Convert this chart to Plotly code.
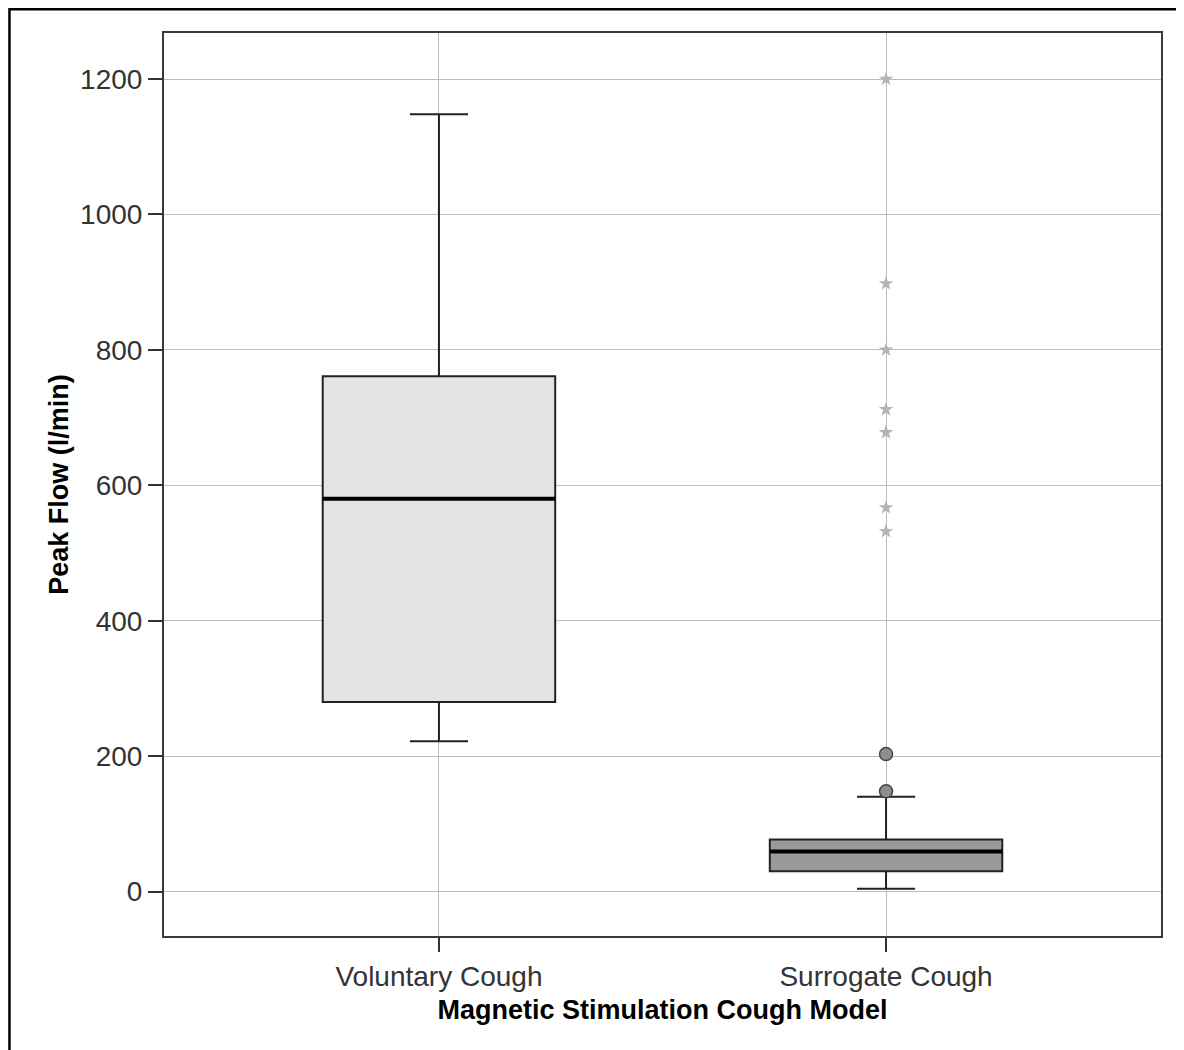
import plotly.graph_objects as go

categories = ["Voluntary Cough", "Surrogate Cough"]
q1 = [280, 30]
median = [580, 59]
q3 = [761, 77]
lower_whisker = [222, 4]
upper_whisker = [1148, 140]
fills = ["#e3e3e3", "#9a9a9a"]

# surrogate cough only
outliers = [203, 148]
extremes = [1200, 898, 800, 712, 678, 567, 532]

fig = go.Figure()
for i, cat in enumerate(categories):
    fig.add_trace(
        go.Box(
            x=[cat],
            q1=[q1[i]],
            median=[median[i]],
            q3=[q3[i]],
            lowerfence=[lower_whisker[i]],
            upperfence=[upper_whisker[i]],
            fillcolor=fills[i],
            line=dict(color="#222222", width=2),
            whiskerwidth=0.25,
            width=0.52,
            boxpoints=False,
            hoverinfo="skip",
        )
    )

# thicker median bar, as in the SPSS output
fig.add_trace(
    go.Scatter(
        x=categories,
        y=median,
        mode="markers",
        marker=dict(symbol="line-ew", size=166, line=dict(color="black", width=4)),
        hoverinfo="skip",
    )
)
fig.add_trace(
    go.Scatter(
        x=[categories[1]] * len(outliers),
        y=outliers,
        mode="markers",
        marker=dict(symbol="circle", size=13, color="#8e8e8e", line=dict(color="#444444", width=1.5)),
    )
)
fig.add_trace(
    go.Scatter(
        x=[categories[1]] * len(extremes),
        y=extremes,
        mode="markers",
        marker=dict(symbol="star", size=11, color="#b4b4b4", line=dict(width=0)),
    )
)

# the page puts the figure 8px in from the top-left corner, so margins are shifted
fig.update_layout(
    width=1184,
    height=1050,
    margin=dict(l=156, r=31, t=25, b=122),
    paper_bgcolor="white",
    plot_bgcolor="white",
    showlegend=False,
    font=dict(family="Liberation Sans, Arial, sans-serif", color="#333333"),
    xaxis=dict(
        type="category",
        range=[-0.615, 1.615],
        showgrid=True,
        gridcolor="#bdbdbd",
        gridwidth=1,
        showline=True,
        linecolor="#3a3a3a",
        linewidth=2,
        mirror=True,
        ticks="outside",
        ticklen=14,
        tickwidth=1.5,
        tickcolor="#333333",
        tickfont=dict(size=28),
        title=dict(
            text="<b>Magnetic Stimulation Cough Model</b>",
            font=dict(size=27, color="black"),
            standoff=10,
        ),
    ),
    yaxis=dict(
        range=[-65.7, 1268],
        tickvals=[0, 200, 400, 600, 800, 1000, 1200],
        showgrid=True,
        gridcolor="#bdbdbd",
        gridwidth=1,
        zeroline=False,
        showline=True,
        linecolor="#3a3a3a",
        linewidth=2,
        mirror=True,
        ticks="outside",
        ticklen=14,
        tickwidth=1.5,
        tickcolor="#333333",
        tickfont=dict(size=28),
        title=dict(
            text="<b>Peak Flow (l/min)</b>",
            font=dict(size=27, color="black"),
            standoff=4,
        ),
    ),
    shapes=[
        dict(
            type="rect",
            xref="paper",
            yref="paper",
            x0=-0.155,
            x1=1.0285,
            y0=-0.2,
            y1=1.0262,
            line=dict(color="black", width=2.5),
        )
    ],
)

fig.write_html("out.html")
